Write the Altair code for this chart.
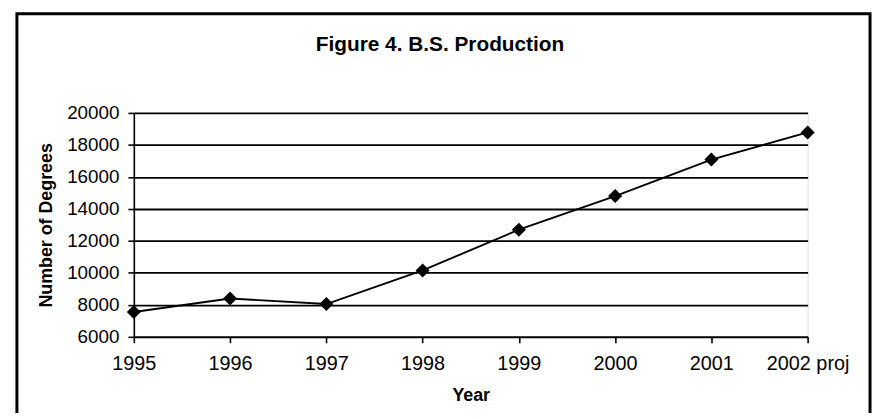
import altair as alt
import pandas as pd

years = ["1995", "1996", "1997", "1998", "1999", "2000", "2001", "2002 proj"]
degrees = [7550, 8400, 8050, 10150, 12700, 14800, 17080, 18780]
y_ticks = [6000, 8000, 10000, 12000, 14000, 16000, 18000, 20000]
title_text = "Figure 4. B.S. Production"

df = pd.DataFrame({"Year": years, "Degrees": degrees})

FONT = "Liberation Sans"

x_enc = alt.X(
    "Year:N",
    sort=years,
    scale=alt.Scale(type="point", padding=0),
    axis=alt.Axis(
        title="Year",
        labelAngle=0,
        labelFontSize=20,
        labelFont=FONT,
        labelColor="black",
        labelPadding=11,
        labelOverlap=False,
        titleFont=FONT,
        titleFontSize=18,
        titleFontWeight="bold",
        titleColor="black",
        titlePadding=13,
        domainColor="black",
        domainWidth=1.6,
        tickColor="black",
        tickSize=6,
        tickWidth=1.6,
        grid=False,
    ),
)

y_enc = alt.Y(
    "Degrees:Q",
    scale=alt.Scale(domain=[6000, 20000], nice=False, zero=False),
    axis=alt.Axis(
        title="Number of Degrees",
        values=y_ticks,
        format="d",
        labelFontSize=19,
        labelFont=FONT,
        labelColor="black",
        labelPadding=9,
        labelOverlap=False,
        titleFont=FONT,
        titleFontSize=18,
        titleFontWeight="bold",
        titleColor="black",
        titlePadding=11,
        domainColor="black",
        domainWidth=1.6,
        tickColor="black",
        tickSize=6,
        tickWidth=1.6,
        grid=True,
        gridColor="black",
        gridWidth=1.8,
    ),
)

base = alt.Chart(df).encode(x=x_enc, y=y_enc)
line = base.mark_line(color="black", strokeWidth=1.9)
points = base.mark_point(shape="diamond", filled=True, color="black", size=200, opacity=1)

deco = pd.DataFrame({"t": [title_text]})
border = alt.Chart(deco).mark_rect(
    fillOpacity=0, stroke="black", strokeWidth=3, clip=False
).encode(
    x=alt.value(-118), x2=alt.value(743), y=alt.value(-100), y2=alt.value(400)
)
title = alt.Chart(deco).mark_text(
    font=FONT, fontSize=21, fontWeight="bold", color="black",
    align="center", baseline="middle", clip=False
).encode(
    text="t:N", x=alt.value(309), y=alt.value(-68)
)

chart = alt.layer(line, points, border, title).properties(
    width=680,
    height=226,
    autosize=alt.AutoSizeParams(type="none"),
    padding={"left": 127, "top": 104, "right": 67, "bottom": 75},
).configure_view(
    stroke="#555", strokeDash=[2, 1], strokeWidth=1
).configure(background="white")

chart.save("out.html", embed_options={"renderer": "svg", "actions": False})
